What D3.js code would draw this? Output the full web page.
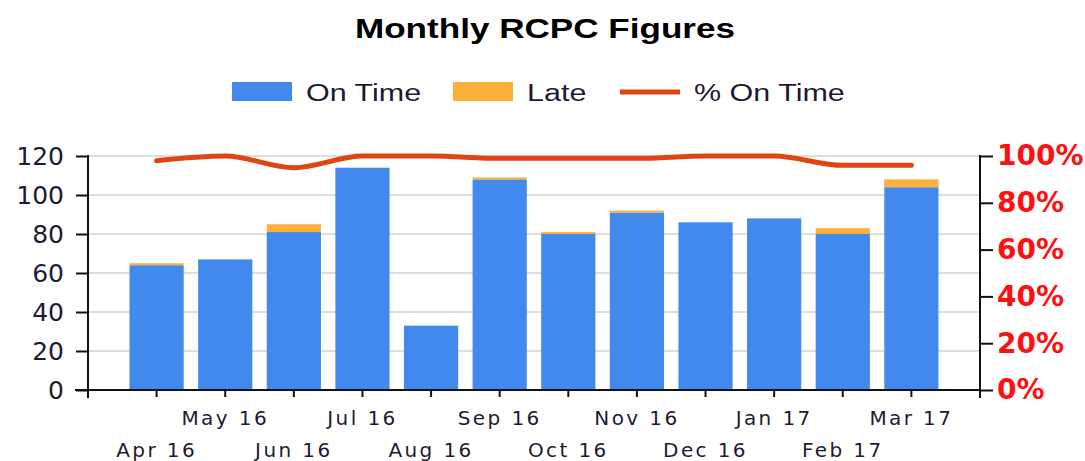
<!DOCTYPE html>
<html>
<head>
<meta charset="utf-8">
<script src="https://cdn.jsdelivr.net/npm/d3@7"></script>
<style>
  html, body { margin: 0; padding: 0; background: #fff; }
  svg { display: block; }
</style>
</head>
<body>
<div id="chart"></div>
<script>
(() => {
const months = ['Apr 16', 'May 16', 'Jun 16', 'Jul 16', 'Aug 16', 'Sep 16',
                'Oct 16', 'Nov 16', 'Dec 16', 'Jan 17', 'Feb 17', 'Mar 17'];
const onTime = [64, 67, 81, 114, 33, 108, 80, 91, 86, 88, 80, 104];
const late = [1, 0, 4, 0, 0, 1, 1, 1, 0, 0, 3, 4];
const pctOnTime = [0.98, 1.0, 0.95, 1.0, 1.0, 0.99, 0.99, 0.99, 1.0, 1.0, 0.96, 0.96];
const countTicks = [0, 20, 40, 60, 80, 100, 120];
const pctTicks = [0, 0.2, 0.4, 0.6, 0.8, 1.0];

const colors = {
    onTime: '#4289ed',
    late: '#fbb03b',
    line: '#e0450f'
};

const width = 1085;
const height = 461;
const left = 88, right = 980, top = 156, bottom = 390;
// the reference is drawn horizontally stretched
const stretch = 1.3;

const svg = d3.select('#chart')
    .append('svg')
    .attr('width', width)
    .attr('height', height);

const rows = months.map((m, i) => ({ month: m, onTime: onTime[i], late: late[i], pct: pctOnTime[i] }));

// band centres sit one step in from each axis
const step = (right - left) / (months.length + 1);
const x = d3.scaleBand()
    .domain(months)
    .range([left + step / 2, right - step / 2])
    .paddingInner(0.21)
    .paddingOuter(0.105);

const y = d3.scaleLinear().domain([0, 120]).range([bottom, top]);
const yPct = d3.scaleLinear().domain([0, 1]).range([bottom, top]);

// gridlines
svg.append('g')
    .selectAll('line')
    .data(countTicks.slice(1))
    .enter()
    .append('line')
    .attr('x1', left)
    .attr('x2', right)
    .attr('y1', d => y(d))
    .attr('y2', d => y(d))
    .attr('stroke', '#dedede')
    .attr('stroke-width', 2);

// stacked bars
const stack = d3.stack().keys(['onTime', 'late']);
svg.append('g')
    .selectAll('g')
    .data(stack(rows))
    .enter()
    .append('g')
    .attr('fill', d => colors[d.key])
    .selectAll('rect')
    .data(d => d)
    .enter()
    .append('rect')
    .attr('x', d => x(d.data.month))
    .attr('width', x.bandwidth())
    .attr('y', d => y(d[1]))
    .attr('height', d => y(d[0]) - y(d[1]));

// % on time line
const line = d3.line()
    .x(d => x(d.month) + x.bandwidth() / 2)
    .y(d => yPct(d.pct))
    .curve(d3.curveMonotoneX);

svg.append('path')
    .datum(rows)
    .attr('d', line)
    .attr('fill', 'none')
    .attr('stroke', colors.line)
    .attr('stroke-width', 5)
    .attr('stroke-linecap', 'round')
    .attr('stroke-linejoin', 'round');

// left axis
const leftAxis = svg.append('g')
    .attr('transform', `translate(${left},0)`)
    .call(d3.axisLeft(y).tickValues(countTicks).tickSize(12).tickPadding(12));
leftAxis.select('.domain').remove();
leftAxis.selectAll('line').attr('stroke', '#111').attr('stroke-width', 2);
leftAxis.selectAll('text')
    .attr('fill', '#1f1a33')
    .style('font-family', 'DejaVu Sans, sans-serif')
    .style('font-size', '25px');
svg.append('line')
    .attr('x1', left).attr('x2', left)
    .attr('y1', top - 1).attr('y2', bottom + 8)
    .attr('stroke', '#111').attr('stroke-width', 2);

// right axis
const rightAxis = svg.append('g')
    .attr('transform', `translate(${right},0)`)
    .call(d3.axisRight(yPct).tickValues(pctTicks).tickFormat(d3.format('.0%')).tickSize(13).tickPadding(4));
rightAxis.select('.domain').remove();
rightAxis.selectAll('line').attr('stroke', '#111').attr('stroke-width', 2);
rightAxis.selectAll('text')
    .attr('fill', '#ff1010')
    .style('font-family', 'DejaVu Sans, sans-serif')
    .style('font-weight', 'bold')
    .style('font-size', '28px');
svg.append('line')
    .attr('x1', right).attr('x2', right)
    .attr('y1', top - 1).attr('y2', bottom + 8)
    .attr('stroke', '#111').attr('stroke-width', 2);

// bottom axis, labels staggered in two rows
const bottomAxis = svg.append('g')
    .attr('transform', `translate(0,${bottom})`)
    .call(d3.axisBottom(x).tickSize(7).tickPadding(0));
bottomAxis.select('.domain').remove();
bottomAxis.selectAll('line').attr('stroke', '#111').attr('stroke-width', 2);
bottomAxis.selectAll('text')
    .attr('fill', '#1f1a33')
    .attr('dy', 0)
    .attr('y', (d, i) => i % 2 === 1 ? 35 : 67)
    .style('font-family', 'DejaVu Sans, sans-serif')
    .style('font-size', '20px')
    .style('letter-spacing', '2.4px');
svg.append('line')
    .attr('x1', 75).attr('x2', right)
    .attr('y1', bottom).attr('y2', bottom)
    .attr('stroke', '#111').attr('stroke-width', 2);

// title
svg.append('text')
    .attr('transform', `translate(545,38) scale(${stretch},1)`)
    .attr('text-anchor', 'middle')
    .attr('fill', '#000')
    .style('font-family', 'Liberation Sans, Arial, sans-serif')
    .style('font-weight', 'bold')
    .style('font-size', '27px')
    .text('Monthly RCPC Figures');

// legend
const legendItems = [
    { label: 'On Time', type: 'rect', color: colors.onTime, x: 232 },
    { label: 'Late', type: 'rect', color: colors.late, x: 453 },
    { label: '% On Time', type: 'line', color: colors.line, x: 620 }
];
const legend = svg.append('g');
legendItems.forEach(item => {
    if (item.type === 'rect') {
        legend.append('rect')
            .attr('x', item.x).attr('y', 82)
            .attr('width', 60).attr('height', 19)
            .attr('fill', item.color);
    } else {
        legend.append('line')
            .attr('x1', item.x).attr('x2', item.x + 60)
            .attr('y1', 92).attr('y2', 92)
            .attr('stroke', item.color)
            .attr('stroke-width', 5);
    }
    legend.append('text')
        .attr('transform', `translate(${item.x + 74},101) scale(${stretch * 1.02},1)`)
        .attr('fill', '#1f1a33')
        .style('font-family', 'Liberation Sans, Arial, sans-serif')
        .style('font-size', '23px')
        .text(item.label);
});
})()
</script>
</body>
</html>
